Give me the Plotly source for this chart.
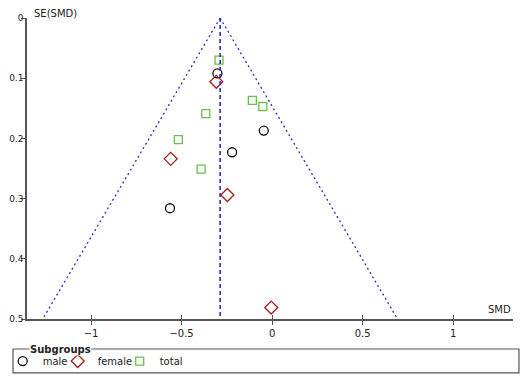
import plotly.graph_objects as go

# Data
male_smd = [-0.302, -0.046, -0.221, -0.564]
male_se = [0.092, 0.187, 0.223, 0.316]
female_smd = [-0.308, -0.560, -0.247, -0.005]
female_se = [0.106, 0.234, 0.294, 0.481]
total_smd = [-0.293, -0.109, -0.051, -0.366, -0.518, -0.392]
total_se = [0.070, 0.137, 0.147, 0.159, 0.202, 0.251]

pooled = -0.287
funnel_se = [0.0, 0.5]
z = 1.96

x_ticks = [-1, -0.5, 0, 0.5, 1]
y_ticks = [0, 0.1, 0.2, 0.3, 0.4, 0.5]

FONT = "DejaVu Sans"
AXC = "#555555"
BLUE = "#2a2ad0"

fig = go.Figure()

# funnel lines
fig.add_trace(go.Scatter(x=[pooled - z * s for s in funnel_se], y=funnel_se, mode="lines",
                         line=dict(color=BLUE, width=1.3, dash="2px,3px"), showlegend=False, hoverinfo="skip"))
fig.add_trace(go.Scatter(x=[pooled + z * s for s in funnel_se], y=funnel_se, mode="lines",
                         line=dict(color=BLUE, width=1.3, dash="2px,3px"), showlegend=False, hoverinfo="skip"))
fig.add_trace(go.Scatter(x=[pooled, pooled], y=funnel_se, mode="lines", xaxis="x2",
                         line=dict(color=BLUE, width=1.6, dash="4px,3px"), showlegend=False, hoverinfo="skip"))

fig.add_trace(go.Scatter(x=male_smd, y=male_se, mode="markers", name="male", legendwidth=10,
                         marker=dict(symbol="circle-open", size=9, color="#111111", line=dict(width=1.3))))
fig.add_trace(go.Scatter(x=female_smd, y=female_se, mode="markers", name="female", legendwidth=17,
                         marker=dict(symbol="diamond-open", size=10, color="#a81c1c", line=dict(width=1.3))))
fig.add_trace(go.Scatter(x=total_smd, y=total_se, mode="markers", name="total",
                         marker=dict(symbol="square-open", size=8, color="#6cbf48", line=dict(width=1.3))))

xr = [-1.354, 1.331]
fig.update_layout(
    width=529, height=379,
    margin=dict(l=19, r=24, t=10, b=68, autoexpand=False),
    paper_bgcolor="white", plot_bgcolor="white",
    font=dict(family=FONT, size=10, color="#222222"),
    xaxis=dict(range=xr, tickvals=x_ticks, ticktext=[("\u2212" if v < 0 else "") + f"{abs(v):g}" for v in x_ticks],
               showgrid=False, zeroline=False, showline=True, linecolor=AXC, linewidth=1.5,
               ticks="outside", ticklen=4, tickwidth=1.3, tickcolor=AXC, anchor="y", automargin=False),
    xaxis2=dict(range=xr, overlaying="x", anchor="y", side="bottom", tickvals=x_ticks,
                showticklabels=False, showgrid=False, zeroline=False, showline=False,
                ticks="inside", ticklen=4, tickwidth=1.3, tickcolor=AXC, automargin=False),
    yaxis=dict(range=[0.5, 0], tickvals=y_ticks, ticktext=[f"{v:g}" for v in y_ticks],
               showgrid=False, zeroline=False, showline=True, linecolor=AXC, linewidth=1.5,
               ticks="outside", ticklen=4, tickwidth=1.3, tickcolor=AXC, automargin=False,
               tickfont=dict(size=9), ticklabelstandoff=-4),
    showlegend=True,
    legend=dict(orientation="h", x=-0.05, xanchor="left", y=-0.0916, yanchor="top",
                bgcolor="rgba(0,0,0,0)", borderwidth=0, font=dict(size=10, family=FONT),
                itemwidth=30, tracegroupgap=0),
)

fig.add_shape(type="rect", xref="paper", yref="paper", x0=-0.0288, x1=1.0123, y0=-0.179, y1=-0.0997,
              line=dict(color=AXC, width=1.2), fillcolor="rgba(0,0,0,0)", layer="below")
fig.add_annotation(text="<b>Subgroups</b>", xref="paper", yref="paper", x=0.004, y=-0.0997,
                   xanchor="left", yanchor="middle", showarrow=False, bgcolor="white",
                   font=dict(size=10, family=FONT, color="#222222"), borderpad=0)
fig.add_annotation(text="SE(SMD)", xref="paper", yref="paper", x=0.012, y=1.0133,
                   xanchor="left", yanchor="middle", showarrow=False, font=dict(size=10, family=FONT),
                   borderpad=0)
fig.add_annotation(text="SMD", xref="paper", yref="paper", x=1.0, y=0.0,
                   xanchor="right", yanchor="bottom", yshift=2, showarrow=False, font=dict(size=10, family=FONT))

fig.write_html("out.html")
